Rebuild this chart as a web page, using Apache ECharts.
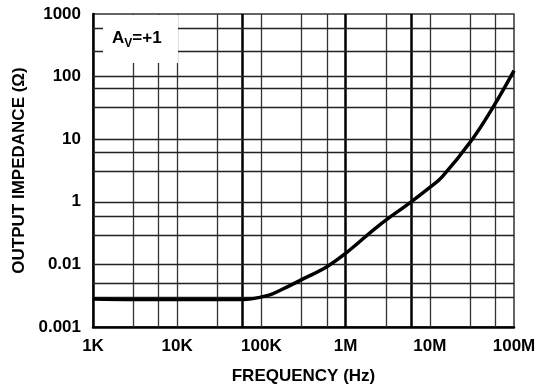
<!DOCTYPE html>
<html>
<head>
<meta charset="utf-8">
<script src="https://cdn.jsdelivr.net/npm/echarts@6/dist/echarts.min.js"></script>
<style>html,body{margin:0;padding:0;background:#fff;}#c{width:542px;height:390px;}</style>
</head>
<body>
<div id="c"></div>
<script>
// Data (y values in axis units: bottom gridline = 0.01, top = 1000)
const freqHz = [1e3, 3e3, 1e4, 3e4, 6e4, 1.2e5, 1.7e5, 3e5, 6e5, 1e6, 2.5e6, 6e6, 1e7, 1.4e7, 3.2e7, 5.6e7, 1e8];
const impedance = [0.028, 0.0275, 0.0275, 0.0275, 0.0275, 0.032, 0.039, 0.057, 0.092, 0.15, 0.42, 1.0, 1.7, 2.5, 10, 32, 125];
const xTickLabels = ['1K', '10K', '100K', '1M', '10M', '100M'];
const yTickLabels = ['0.001', '0.01', '1', '10', '100', '1000'];
const vGridThin = [3e3, 6e3, 1e4, 3e4, 1e5, 3e5, 6e5, 3e6, 1e7, 3e7, 6e7];
const vGridBold = [6e4, 1e6, 6e6];
const hGrid = [600, 250, 100, 64, 32, 10, 6.2, 3.1, 1, 0.58, 0.29, 0.1, 0.054, 0.028];

const chart = echarts.init(document.getElementById('c'));
const font = 'Liberation Sans, Arial, sans-serif';
const gridData = [];
vGridThin.forEach(v => gridData.push({xAxis: v, lineStyle: {type: 'solid', width: 1.3, color: '#333'}}));
vGridBold.forEach(v => gridData.push({xAxis: v, lineStyle: {type: 'solid', width: 2.5, color: '#000'}}));
hGrid.forEach(v => gridData.push({yAxis: v, lineStyle: {type: 'solid', width: 1.3, color: '#222'}}));

chart.setOption({
  animation: false,
  grid: {left: 93, top: 14, width: 421, height: 315, show: true, borderColor: '#333', borderWidth: 1.5},
  xAxis: {
    type: 'log', logBase: 10, min: 1e3, max: 1e8,
    name: 'FREQUENCY (Hz)', nameLocation: 'middle', nameGap: 41,
    nameTextStyle: {fontFamily: font, fontWeight: 'bold', fontSize: 17, color: '#000'},
    axisLine: {show: true, onZero: false, lineStyle: {color: '#000', width: 2.5}},
    axisTick: {show: false},
    splitLine: {show: false},
    axisLabel: {
      fontFamily: font, fontWeight: 'bold', fontSize: 17, color: '#000', margin: 11,
      formatter: v => xTickLabels[Math.round(Math.log10(v)) - 3]
    }
  },
  yAxis: {
    type: 'log', logBase: 10, min: 0.01, max: 1000,
    name: 'OUTPUT IMPEDANCE (Ω)', nameLocation: 'middle', nameGap: 63,
    nameTextStyle: {fontFamily: font, fontWeight: 'bold', fontSize: 17, color: '#000'},
    axisLine: {show: true, onZero: false, lineStyle: {color: '#000', width: 2.5}},
    axisTick: {show: false},
    splitLine: {show: false},
    axisLabel: {
      fontFamily: font, fontWeight: 'bold', fontSize: 17, color: '#000', margin: 12,
      formatter: v => yTickLabels[Math.round(Math.log10(v)) + 2]
    }
  },
  series: [{
    type: 'line',
    data: freqHz.map((f, i) => [f, impedance[i]]),
    smooth: 0.4,
    showSymbol: false,
    lineStyle: {color: '#000', width: 3.5},
    z: 5,
    markLine: {
      silent: true, symbol: 'none', label: {show: false},
      animation: false,
      lineStyle: {type: 'solid'},
      data: gridData
    }
  }],
  graphic: [{
    type: 'rect', z: 100,
    shape: {x: 103, y: 15, width: 75, height: 48},
    style: {fill: '#fff'}
  }, {
    type: 'text', z: 101, left: 112, top: 30,
    style: {
      text: '{a|A}{s|V}{a|=+1}',
      rich: {
        a: {fontFamily: font, fontWeight: 'bold', fontSize: 17, fill: '#000', lineHeight: 22, verticalAlign: 'top'},
        s: {fontFamily: font, fontWeight: 'bold', fontSize: 12, fill: '#000', lineHeight: 22, padding: [8, 0, 0, 0], verticalAlign: 'top'}
      }
    }
  }]
});
</script>
</body>
</html>
